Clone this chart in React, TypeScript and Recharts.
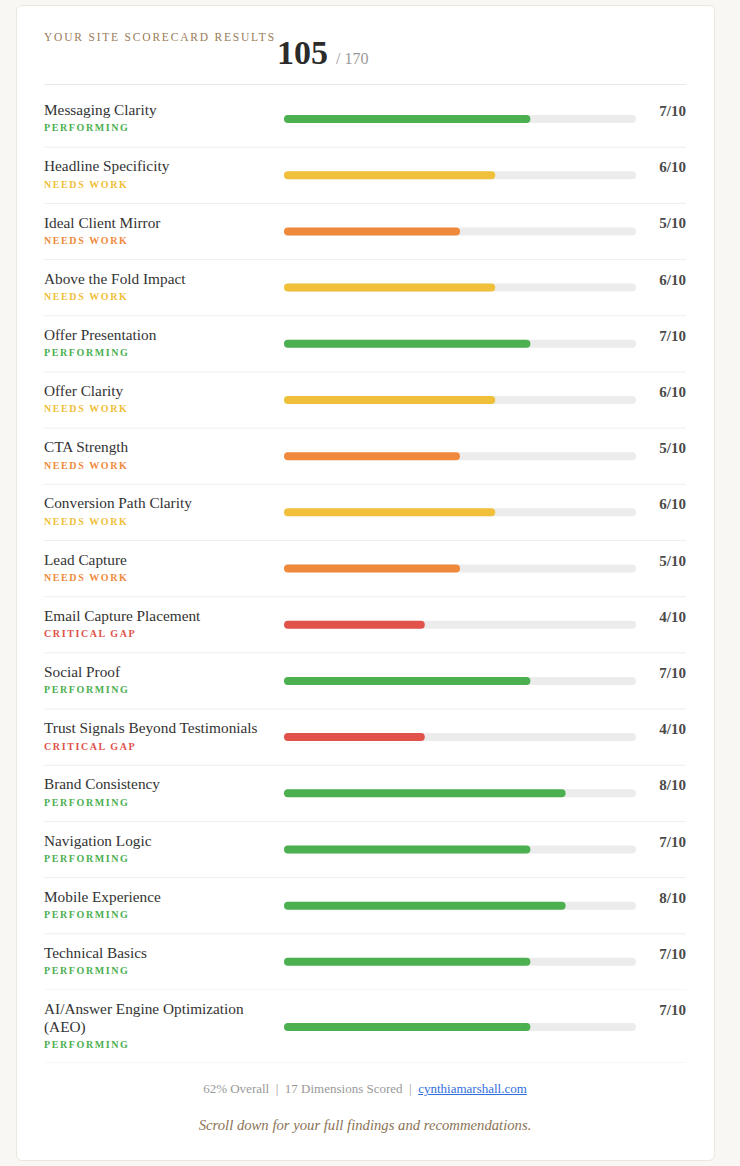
import React from 'react';
import { BarChart, Bar, XAxis, YAxis, Cell } from 'recharts';

const categories = [
  'Messaging Clarity',
  'Headline Specificity',
  'Ideal Client Mirror',
  'Above the Fold Impact',
  'Offer Presentation',
  'Offer Clarity',
  'CTA Strength',
  'Conversion Path Clarity',
  'Lead Capture',
  'Email Capture Placement',
  'Social Proof',
  'Trust Signals Beyond Testimonials',
  'Brand Consistency',
  'Navigation Logic',
  'Mobile Experience',
  'Technical Basics',
  'AI/Answer Engine Optimization (AEO)',
];
const scores = [7, 6, 5, 6, 7, 6, 5, 6, 5, 4, 7, 4, 8, 7, 8, 7, 7];
const statuses = [
  'PERFORMING', 'NEEDS WORK', 'NEEDS WORK', 'NEEDS WORK', 'PERFORMING', 'NEEDS WORK',
  'NEEDS WORK', 'NEEDS WORK', 'NEEDS WORK', 'CRITICAL GAP', 'PERFORMING', 'CRITICAL GAP',
  'PERFORMING', 'PERFORMING', 'PERFORMING', 'PERFORMING', 'PERFORMING',
];
const maxScore = 10;
const totalMax = 170;
const siteUrl = 'cynthiamarshall.com';

const FONT = "'Liberation Serif', 'Times New Roman', serif";
const NAME_SIZE = 15.3;
const W = 642;
const AXIS_W = 240;
const RIGHT_M = 50;

function colorFor(score: number) {
  if (score >= 7) return '#4caf50';
  if (score === 6) return '#f0c03a';
  if (score === 5) return '#ef8a3c';
  return '#e0524a';
}

let ctx: CanvasRenderingContext2D | null = null;
function wrapText(text: string, maxW: number, font: string): string[] {
  if (!ctx) ctx = document.createElement('canvas').getContext('2d');
  if (!ctx) return [text];
  ctx.font = font;
  const words = text.split(' ');
  const lines: string[] = [];
  let cur = '';
  for (const w of words) {
    const t = cur ? cur + ' ' + w : w;
    if (ctx.measureText(t).width > maxW && cur) {
      lines.push(cur);
      cur = w;
    } else cur = t;
  }
  if (cur) lines.push(cur);
  return lines;
}

type Row = { name: string; score: number; status: string };
const rowsAll: Row[] = categories.map((name, i) => ({ name, score: scores[i], status: statuses[i] }));

function RowTick(props: any) {
  const { y, payload, rows, rowH } = props;
  const row: Row = rows.find((r: Row) => r.name === payload.value);
  const color = colorFor(row.score);
  const lines = wrapText(row.name, 225, `${NAME_SIZE}px ${FONT}`);
  const lh = 18;
  const blockH = lines.length * lh + lh;
  const top = y - blockH / 2;
  const firstC = top + lh / 2;
  const statusC = top + lines.length * lh + lh / 2;
  return (
    <g>
      {lines.map((l, k) => (
        <text key={k} x={0} y={firstC + k * lh + NAME_SIZE * 0.33} fontFamily={FONT} fontSize={NAME_SIZE} fill="#333">
          {l}
        </text>
      ))}
      <text x={0} y={statusC + 3.4} fontFamily={FONT} fontSize={10} fontWeight={700} letterSpacing={1.6} fill={color}>
        {row.status}
      </text>
      <text x={W} y={firstC + 1 + 5} textAnchor="end" fontFamily={FONT} fontSize={15} fontWeight={700} fill="#4a4a4a">
        {`${row.score}/${maxScore}`}
      </text>
      <line x1={0} x2={W} y1={y + rowH / 2} y2={y + rowH / 2} stroke="#eeeeee" strokeWidth={1} />
    </g>
  );
}

function ScoreChart({ rows, height }: { rows: Row[]; height: number }) {
  const rowH = height / rows.length;
  return (
    <BarChart width={W} height={height} data={rows} layout="vertical" margin={{ top: 0, right: RIGHT_M, bottom: 0, left: 0 }} barCategoryGap={0}>
      <XAxis type="number" domain={[0, maxScore]} hide />
      <YAxis
        type="category"
        dataKey="name"
        width={AXIS_W}
        axisLine={false}
        tickLine={false}
        interval={0}
        tick={(p: any) => <RowTick {...p} rows={rows} rowH={rowH} />}
      />
      <Bar dataKey="score" barSize={8} radius={4} background={{ fill: '#ececec', radius: 4 }} isAnimationActive={false}>
        {rows.map((r, i) => (
          <Cell key={i} fill={colorFor(r.score)} />
        ))}
      </Bar>
    </BarChart>
  );
}

export default function App() {
  const total = scores.reduce((a, b) => a + b, 0);
  const pct = Math.round((total / totalMax) * 100);
  return (
    <div style={{ position: 'absolute', left: 0, top: 0, width: 740, height: 1166, background: '#f8f7f4', fontFamily: FONT }}>
      <div style={{ position: 'absolute', left: 16, top: 5, width: 697, height: 1154, background: '#fff', border: '1px solid #ebe8e2', borderRadius: 6 }} />
      <div style={{ position: 'absolute', left: 44, top: 30, fontSize: 11.5, letterSpacing: 1.8, color: '#9a7b58', whiteSpace: 'nowrap', lineHeight: '14px' }}>
        YOUR SITE SCORECARD RESULTS
      </div>
      <div style={{ position: 'absolute', left: 277, top: 36, whiteSpace: 'nowrap', lineHeight: '34px' }}>
        <span style={{ fontSize: 34, fontWeight: 700, color: '#2b2b2b' }}>{total}</span>
        <span style={{ fontSize: 16, color: '#999', marginLeft: 8 }}>/ {totalMax}</span>
      </div>
      <div style={{ position: 'absolute', left: 44, top: 84, width: W, height: 1, background: '#e8e8e8' }} />
      <div style={{ position: 'absolute', left: 44, top: 91 }}>
        <ScoreChart rows={rowsAll.slice(0, 16)} height={899} />
      </div>
      <div style={{ position: 'absolute', left: 44, top: 990 }}>
        <ScoreChart rows={rowsAll.slice(16)} height={73} />
      </div>
      <div style={{ position: 'absolute', left: 44, top: 1080, width: W, textAlign: 'center', fontSize: 13, color: '#999', lineHeight: '18px' }}>
        {pct}% Overall &nbsp;|&nbsp; {scores.length} Dimensions Scored &nbsp;|&nbsp;{' '}
        <a href="#" style={{ color: '#2f6fdc', textDecoration: 'underline' }}>{siteUrl}</a>
      </div>
      <div style={{ position: 'absolute', left: 44, top: 1116, width: W, textAlign: 'center', fontSize: 14.7, fontStyle: 'italic', color: '#8b7355', lineHeight: '18px' }}>
        Scroll down for your full findings and recommendations.
      </div>
    </div>
  );
}
